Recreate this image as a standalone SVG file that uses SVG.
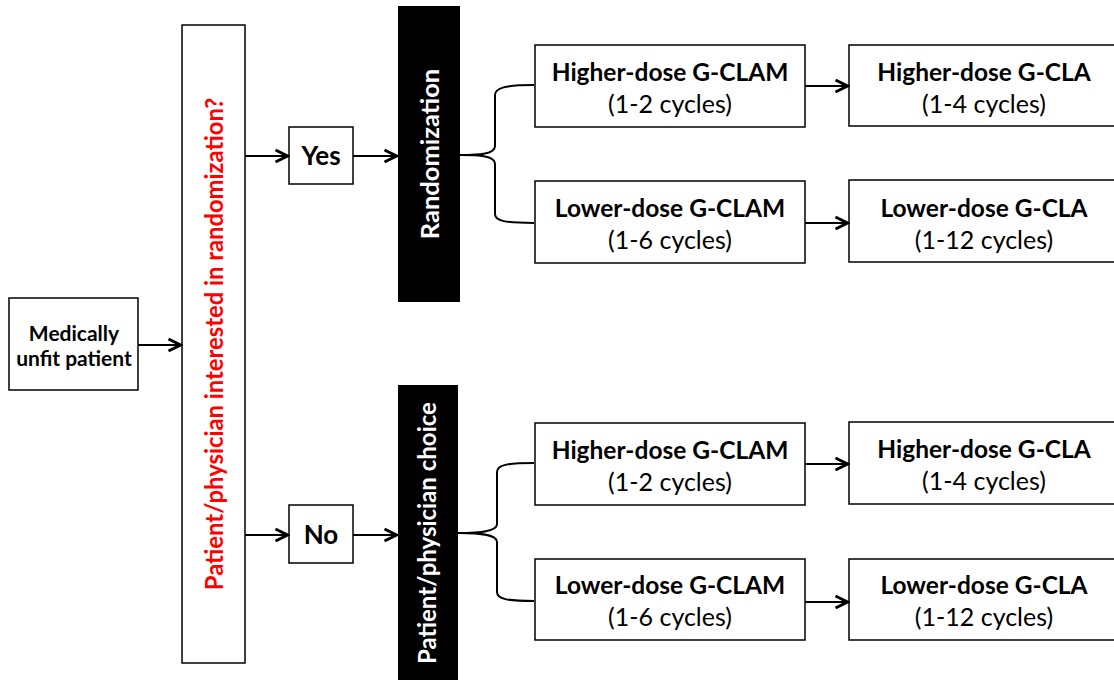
<svg xmlns="http://www.w3.org/2000/svg" width="1114" height="680" viewBox="0 0 1114 680">
<defs>
<marker id="arr" viewBox="0 0 16 16" refX="14.5" refY="8" markerWidth="16" markerHeight="16" markerUnits="userSpaceOnUse" orient="auto">
<path d="M2,2 L14,8 L2,14" fill="none" stroke="#000" stroke-width="3"/>
</marker>
<style>
.box{fill:#fff;stroke:#000;stroke-width:1.5}
.blk{fill:#000}
.t{font-family:Lato,"Open Sans",sans-serif;font-size:25px;text-anchor:middle;fill:#000}
.b{font-weight:bold;font-size:24.5px}
.w{fill:#fff}
.r{fill:#ff0000}
.c line,.c path{stroke:#000;stroke-width:2;fill:none}
</style>
</defs>
<rect width="1114" height="680" fill="#fff"/>
<g id="unfit">
<rect class="box" x="9" y="298" width="129" height="92"/>
<text class="t b" x="74" y="341" style="font-size:21px">Medically</text>
<text class="t b" x="74" y="366" style="font-size:21px">unfit patient</text>
</g>
<g id="question">
<rect class="box" x="182" y="25" width="63" height="638"/>
<text class="t b r" transform="translate(223,344) rotate(-90)" style="font-size:23.8px">Patient/physician interested in randomization?</text>
</g>
<g id="yes">
<rect class="box" x="289" y="127" width="64" height="57"/>
<text class="t b" x="321" y="165" style="font-size:26px">Yes</text>
</g>
<g id="no">
<rect class="box" x="289" y="505" width="64" height="58"/>
<text class="t b" x="321" y="544" style="font-size:26px">No</text>
</g>
<g id="randomization">
<rect class="blk" x="398" y="6" width="62" height="296"/>
<text class="t b w" transform="translate(439,154) rotate(-90)" style="font-size:25.5px">Randomization</text>
</g>
<g id="choice">
<rect class="blk" x="398" y="385" width="60" height="295"/>
<text class="t b w" transform="translate(436,533) rotate(-90)" style="font-size:24px">Patient/physician choice</text>
</g>
<g id="r-hi-clam">
<rect class="box" x="535" y="45" width="270" height="82"/>
<text class="t b" x="670" y="81">Higher-dose G-CLAM</text>
<text class="t" x="670" y="113">(1-2 cycles)</text>
</g>
<g id="r-hi-cla">
<rect class="box" x="849" y="45" width="266" height="81"/>
<text class="t b" x="984" y="81">Higher-dose G-CLA</text>
<text class="t" x="984" y="113">(1-4 cycles)</text>
</g>
<g id="r-lo-clam">
<rect class="box" x="535" y="181" width="270" height="82"/>
<text class="t b" x="670" y="217">Lower-dose G-CLAM</text>
<text class="t" x="670" y="249">(1-6 cycles)</text>
</g>
<g id="r-lo-cla">
<rect class="box" x="849" y="180" width="266" height="82"/>
<text class="t b" x="984" y="217">Lower-dose G-CLA</text>
<text class="t" x="984" y="249">(1-12 cycles)</text>
</g>
<g id="c-hi-clam">
<rect class="box" x="535" y="423" width="270" height="82"/>
<text class="t b" x="670" y="459">Higher-dose G-CLAM</text>
<text class="t" x="670" y="491">(1-2 cycles)</text>
</g>
<g id="c-hi-cla">
<rect class="box" x="849" y="422" width="266" height="82"/>
<text class="t b" x="984" y="458">Higher-dose G-CLA</text>
<text class="t" x="984" y="490">(1-4 cycles)</text>
</g>
<g id="c-lo-clam">
<rect class="box" x="535" y="559" width="270" height="81"/>
<text class="t b" x="670" y="594">Lower-dose G-CLAM</text>
<text class="t" x="670" y="626">(1-6 cycles)</text>
</g>
<g id="c-lo-cla">
<rect class="box" x="849" y="559" width="266" height="81"/>
<text class="t b" x="984" y="594">Lower-dose G-CLA</text>
<text class="t" x="984" y="626">(1-12 cycles)</text>
</g>
<g id="connectors" class="c">
<line x1="138" y1="345" x2="181" y2="345" marker-end="url(#arr)"/>
<line x1="245" y1="156" x2="288" y2="156" marker-end="url(#arr)"/>
<line x1="353" y1="156" x2="397" y2="156" marker-end="url(#arr)"/>
<line x1="245" y1="535" x2="288" y2="535" marker-end="url(#arr)"/>
<line x1="353" y1="535" x2="397" y2="535" marker-end="url(#arr)"/>
<line x1="805" y1="86" x2="848" y2="86" marker-end="url(#arr)"/>
<line x1="805" y1="223" x2="848" y2="223" marker-end="url(#arr)"/>
<line x1="805" y1="464" x2="848" y2="464" marker-end="url(#arr)"/>
<line x1="805" y1="602" x2="848" y2="602" marker-end="url(#arr)"/>
<path d="M460,155 C480,155 495,154 495,146 L495,95 C495,88 505,85 534,85"/>
<path d="M460,155 C480,155 495,156 495,164 L495,214 C495,221 505,223 534,223"/>
<path d="M458,533 C478,533 497,532 497,524 L497,472 C497,465 507,463 534,463"/>
<path d="M458,533 C478,533 497,534 497,542 L497,592 C497,599 507,601 534,601"/>
</g>
</svg>
